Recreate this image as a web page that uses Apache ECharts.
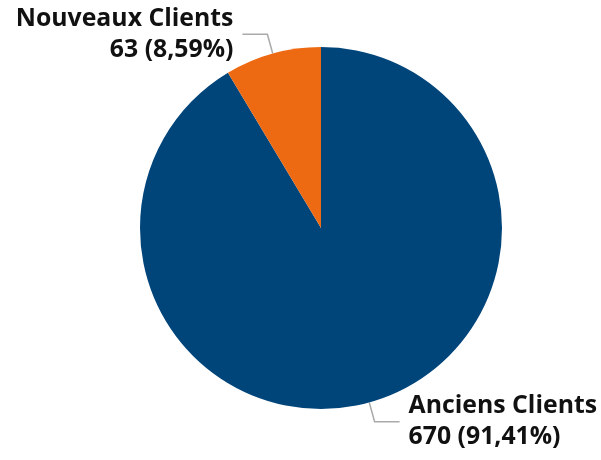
<!DOCTYPE html>
<html><head><meta charset="utf-8">
<script src="https://cdn.jsdelivr.net/npm/echarts@6/dist/echarts.min.js"></script>
<style>html,body{margin:0;padding:0;background:#fff}#c{width:601px;height:460px}</style>
</head><body><div id="c"></div>
<script>
var categories = ['Anciens Clients', 'Nouveaux Clients'];
var values = [670, 63];
var percents = ['91,41%', '8,59%'];
var colors = ['#00457a', '#ee6a12'];

var chart = echarts.init(document.getElementById('c'), null, {renderer: 'canvas'});
chart.setOption({
  animation: false,
  series: [{
    type: 'pie',
    center: [321, 228],
    radius: [0, 181],
    startAngle: 90,
    clockwise: true,
    data: categories.map(function (c, i) {
      return {name: c, value: values[i], itemStyle: {color: colors[i]}};
    }),
    itemStyle: {borderWidth: 0},
    label: {
      show: true,
      position: 'outside',
      overflow: 'none',
      distanceToLabelLine: 9,
      fontFamily: 'Open Sans',
      fontWeight: 'bold',
      fontSize: 24.8,
      lineHeight: 31,
      color: '#111',
      formatter: function (p) {
        return p.name + '\n' + p.value + ' (' + percents[p.dataIndex] + ')';
      }
    },
    labelLine: {
      show: true,
      length: 20,
      length2: 25,
      lineStyle: {color: '#aaaaaa', width: 1.5}
    }
  }]
});
</script></body></html>
